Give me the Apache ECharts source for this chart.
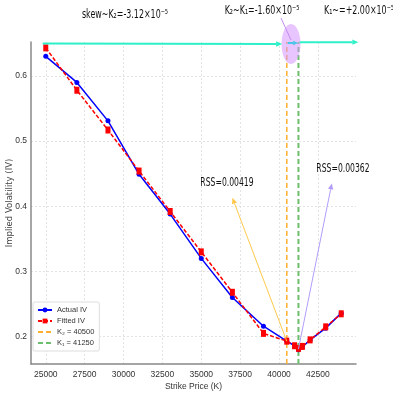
<!DOCTYPE html>
<html><head><meta charset="utf-8">
<script src="https://cdn.jsdelivr.net/npm/echarts@6/dist/echarts.min.js"></script>
<style>html,body{margin:0;padding:0;background:#fff}#c{width:393px;height:393px}</style>
</head><body><div id="c"></div>
<script>
const strikes  = [25000,27000,29000,31000,33000,35000,37000,39000,40500,41000,41250,41500,42000,43000,44000];
const actualIV = [0.630,0.590,0.531,0.449,0.388,0.320,0.260,0.216,0.193,0.186,0.180,0.184,0.195,0.213,0.236];
const fittedIV = [0.643,0.578,0.517,0.454,0.392,0.330,0.268,0.205,0.193,0.186,0.182,0.185,0.195,0.215,0.235];
const xTicks = [25000,27500,30000,32500,35000,37500,40000,42500];
const yTicks = [0.2,0.3,0.4,0.5,0.6];
const K2 = 40500, K1 = 41250;
const legendNames = ['Actual IV','Fitted IV','K\u2082 = 40500','K\u2081 = 41250'];
const topTexts = ['skew~K\u2082=-3.12\u00d710\u207b\u2075','K\u2082~K\u2081=-1.60\u00d710\u207b\u2075','K\u2081~=+2.00\u00d710\u207b\u2075'];
const rssTexts = ['RSS=0.00419','RSS=0.00362'];
const xRange = [24050, 44950];
const yRange = [0.158, 0.652];

const FONT = "'Liberation Sans Narrow','Liberation Sans',Arial,sans-serif";
const chart = echarts.init(document.getElementById('c'), null, {renderer:'canvas'});
const pair = (xs, ys) => xs.map((x,i)=>[x, ys[i]]);
const option = {
  animation:false,
  backgroundColor:'#fff',
  grid:{left:31,right:37,top:42,bottom:29,outerBoundsMode:'none',containLabel:false},
  xAxis:{type:'value',min:xRange[0],max:xRange[1],
    name:'Strike Price (K)',nameLocation:'middle',nameGap:18,nameMoveOverlap:false,
    nameTextStyle:{fontFamily:FONT,fontSize:8.5,color:'#333'},
    axisLine:{show:true,lineStyle:{color:'#888',width:1.5}},
    axisTick:{show:false,customValues:xTicks},
    axisLabel:{customValues:xTicks,formatter:v=>String(v),fontFamily:FONT,fontSize:8.5,color:'#333',margin:6},
    splitLine:{show:true,lineStyle:{color:'#dcdcdc',type:[2,2],width:0.8}}},
  yAxis:{type:'value',min:yRange[0],max:yRange[1],
    name:'Implied Volatility (IV)',nameLocation:'middle',nameGap:17,nameMoveOverlap:false,
    nameTextStyle:{fontFamily:"'DejaVu Sans',sans-serif",fontSize:8.5,color:'#444'},
    axisLine:{show:true,lineStyle:{color:'#888',width:1.5}},
    axisTick:{show:false,customValues:yTicks},
    axisLabel:{customValues:yTicks,formatter:v=>v.toFixed(1),fontFamily:FONT,fontSize:8.5,color:'#333',margin:4},
    splitLine:{show:true,lineStyle:{color:'#dcdcdc',type:[2,2],width:0.8}}},
  legend:{orient:'vertical',left:33,top:302,
    data:[legendNames[0],legendNames[1],
      {name:legendNames[2],itemStyle:{opacity:0}},
      {name:legendNames[3],itemStyle:{opacity:0}}],
    itemWidth:14,itemHeight:6,itemGap:3,
    textStyle:{fontFamily:FONT,fontSize:7.5,color:'#333'},backgroundColor:'#fff',borderColor:'#ddd',borderWidth:1,borderRadius:2,padding:[4,5,4,4]},
  series:[
    {name:legendNames[0],type:'line',data:pair(strikes,actualIV),symbol:'circle',symbolSize:5,
      itemStyle:{color:'#0000ff'},lineStyle:{color:'#0000ff',width:1.5},z:3},
    {name:legendNames[1],type:'line',data:pair(strikes,fittedIV),symbol:'rect',symbolSize:[5,7],
      itemStyle:{color:'#ff0000'},lineStyle:{color:'#ff0000',width:1.5,type:[4,2]},z:4},
    {name:legendNames[2],type:'line',data:[[K2,yRange[0]],[K2,yRange[1]]],symbol:'none',
      itemStyle:{color:'#ffb02e'},lineStyle:{color:'#ffb02e',width:1.5,type:[5,3]},z:2},
    {name:legendNames[3],type:'line',data:[[K1,yRange[0]],[K1,yRange[1]]],symbol:'none',
      itemStyle:{color:'#6cbf6c'},lineStyle:{color:'#6cbf6c',width:2,type:[5,3]},z:2}
  ]
};
chart.setOption(option);

const P = (x,y)=>chart.convertToPixel({gridIndex:0},[x,y]);
function arrow(a,b,color,w,head){
  const dx=b[0]-a[0], dy=b[1]-a[1], L=Math.hypot(dx,dy), ux=dx/L, uy=dy/L;
  const base=[b[0]-ux*head, b[1]-uy*head];
  const px=-uy*head*0.45, py=ux*head*0.45;
  return [
    {type:'line',z:50,shape:{x1:a[0],y1:a[1],x2:base[0],y2:base[1]},style:{stroke:color,lineWidth:w}},
    {type:'polygon',z:50,shape:{points:[b,[base[0]+px,base[1]+py],[base[0]-px,base[1]-py]]},style:{fill:color}}
  ];
}
const ell = P(40772,0.6488);
const g = [];
g.push({type:'ellipse',z:40,shape:{cx:ell[0],cy:ell[1],rx:9.5,ry:20},style:{fill:'rgba(214,150,255,0.55)'}});
g.push(...arrow(P(24800,0.6497),P(40200,0.649),'#2ef0c8',2,6));
g.push(...arrow(P(40560,0.6505),P(41230,0.6505),'#48c8e6',2,5));
g.push(...arrow(P(41330,0.6518),P(45100,0.6518),'#2ef0c8',2,6));
g.push({type:'line',z:45,shape:{x1:281,y1:18,x2:291,y2:40},style:{stroke:'#c58cf0',lineWidth:1}});
g.push(...arrow(P(K2,0.193),P(37000,0.413),'#ffc94d',1,6));
g.push(...arrow(P(K1,0.181),P(43395,0.435),'#b39dfa',1,6));
const ts = (x,y,t,s,sx)=>({type:'text',z:60,x:x,y:y,scaleX:sx,style:{text:t,fontFamily:"'DejaVu Sans',sans-serif",fontSize:s,fill:'#111',align:'center',verticalAlign:'middle'}});
g.push(ts(125,15,topTexts[0],13,0.61));
g.push(ts(262,11,topTexts[1],13,0.61));
g.push(ts(359,11,topTexts[2],13,0.61));
g.push(ts(227,183,rssTexts[0],12,0.64));
g.push(ts(343,169,rssTexts[1],12,0.64));
chart.setOption({graphic:g});
</script></body></html>
